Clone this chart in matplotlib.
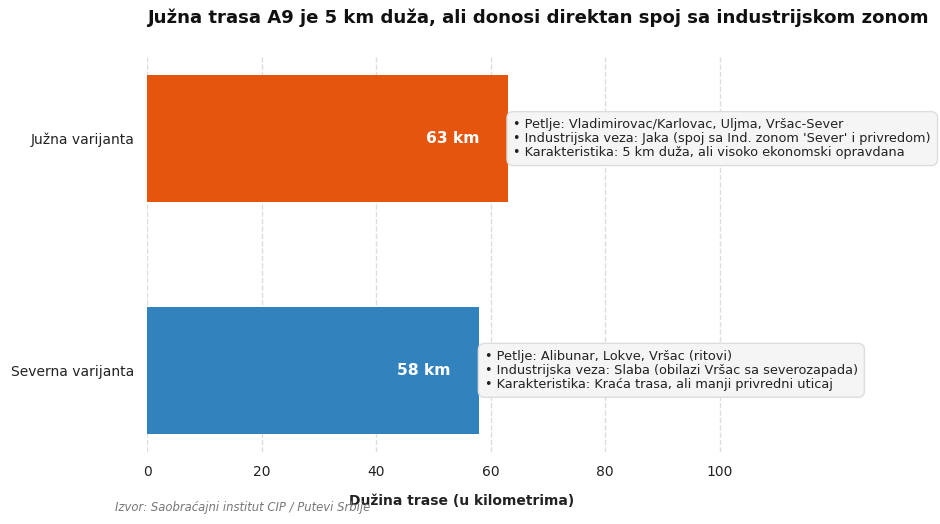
import matplotlib.pyplot as plt

# data
variants = ["Severna varijanta", "Južna varijanta"]
lengths = [58, 63]
colors = ["#3182BD", "#E6550D"]
notes = [
    "• Petlje: Alibunar, Lokve, Vršac (ritovi)\n"
    "• Industrijska veza: Slaba (obilazi Vršac sa severozapada)\n"
    "• Karakteristika: Kraća trasa, ali manji privredni uticaj",
    "• Petlje: Vladimirovac/Karlovac, Uljma, Vršac-Sever\n"
    "• Industrijska veza: Jaka (spoj sa Ind. zonom 'Sever' i privredom)\n"
    "• Karakteristika: 5 km duža, ali visoko ekonomski opravdana",
]
xticks = [0, 20, 40, 60, 80, 100]


def main():
    fig = plt.figure(figsize=(9.4, 5.24), dpi=100)
    ax = fig.add_axes([0.1564, 0.1374, 0.670, 0.754])

    ypos = range(len(variants))
    ax.barh(ypos, lengths, height=0.55, color=colors, zorder=2)

    for y, val, note in zip(ypos, lengths, notes):
        ax.text(val - 5, y, f"{val} km", ha="right", va="center",
                color="white", fontweight="bold", fontsize=11.2, zorder=3)
        ax.text(val + 1, y, note, ha="left", va="center", fontsize=9.3,
                color="#222222", linespacing=1.1, zorder=4,
                bbox=dict(boxstyle="round,pad=0.5", fc="#f5f5f5",
                          ec="#dddddd", lw=1))

    ax.set_yticks(list(ypos))
    ax.set_yticklabels(variants, fontsize=10, color="#222222")
    ax.set_xticks(xticks)
    ax.set_xticklabels([str(t) for t in xticks], fontsize=10, color="#222222")
    ax.set_xlim(0, 110)
    ax.tick_params(axis="both", length=0, pad=9)

    ax.xaxis.grid(True, linestyle="--", color="#dddddd", linewidth=1, zorder=0)
    ax.yaxis.grid(False)
    for s in ax.spines.values():
        s.set_visible(False)

    ax.set_xlabel("Dužina trase (u kilometrima)", fontsize=10,
                  fontweight="bold", color="#222222", labelpad=11)

    fig.text(147 / 940, 1 - 18 / 524,
             "Južna trasa A9 je 5 km duža, ali donosi direktan spoj sa industrijskom zonom",
             ha="left", va="center", fontsize=13.1, fontweight="bold",
             color="#111111")
    fig.text(115 / 940, 1 - 508 / 524,
             "Izvor: Saobraćajni institut CIP / Putevi Srbije",
             ha="left", va="center", fontsize=8.4, style="italic",
             color="#777777")

    fig.savefig("out.png", dpi=100)


if __name__ == "__main__":
    main()
